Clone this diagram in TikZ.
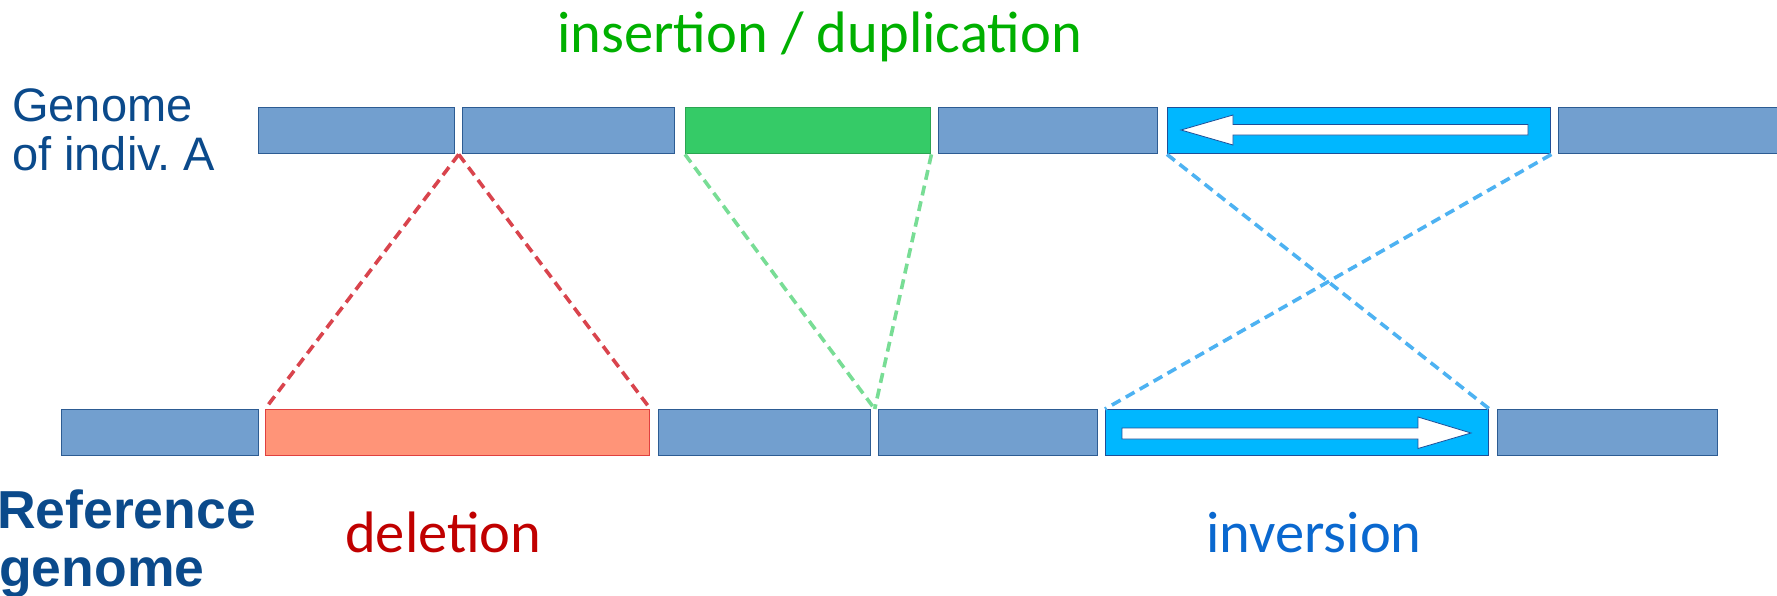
\documentclass[tikz,border=0pt]{standalone}
\usepackage{fontspec}
\setmainfont{Liberation Sans}
\newfontfamily\calfont{Carlito}
\usetikzlibrary{calc}
\frenchspacing

\definecolor{segblue}{HTML}{729FCF}
\definecolor{segedge}{HTML}{2D5C93}
\definecolor{insfill}{HTML}{35CB67}
\definecolor{insedge}{HTML}{2BA552}
\definecolor{invfill}{HTML}{00B7FF}
\definecolor{invedge}{HTML}{1E4F98}
\definecolor{delfill}{HTML}{FF9478}
\definecolor{deledge}{HTML}{E0403F}
\definecolor{dashred}{HTML}{D9444D}
\definecolor{dashgreen}{HTML}{78DD95}
\definecolor{dashblue}{HTML}{4DB2F2}
\definecolor{labelblue}{HTML}{0B4A8B}
\definecolor{delred}{HTML}{C00000}
\definecolor{insgreen}{HTML}{00B000}
\definecolor{invblue}{HTML}{0A68CF}

\tikzset{
  seg/.style={draw=segedge, fill=segblue, line width=1.4pt, inner sep=0pt,
              anchor=north west, minimum height=46pt},
  insseg/.style={seg, draw=insedge, fill=insfill},
  invseg/.style={seg, draw=invedge, fill=invfill},
  delseg/.style={seg, draw=deledge, fill=delfill},
  link/.style={dash pattern=on 10pt off 6pt, line width=3.6pt},
  strandarrow/.style={fill=white, draw=invedge, line width=0.8pt},
  lbl/.style={inner sep=0pt, anchor=base west},
  varfont/.style={font=\calfont\fontsize{58.5}{60}\selectfont},
}

\begin{document}
\begin{tikzpicture}[x=1pt, y=-1pt]
  \useasboundingbox (0,0) rectangle (1777,595);

  % genome of individual A (upper row)
  \node[seg,    minimum width=196pt] (t1) at (258,107) {};
  \node[seg,    minimum width=212pt] (t2) at (462,107) {};
  \node[insseg, minimum width=245pt] (tg) at (685,107) {};
  \node[seg,    minimum width=219pt] (t4) at (938,107) {};
  \node[invseg, minimum width=383pt] (tc) at (1167,107) {};
  \node[seg,    minimum width=230pt] (t6) at (1558,107) {};

  % reference genome (lower row)
  \node[seg,    minimum width=197pt] (b1) at (61,409) {};
  \node[delseg, minimum width=384pt] (br) at (265,409) {};
  \node[seg,    minimum width=212pt] (b3) at (658,409) {};
  \node[seg,    minimum width=219pt] (b4) at (878,409) {};
  \node[invseg, minimum width=383pt] (bc) at (1105,409) {};
  \node[seg,    minimum width=220pt] (b6) at (1497,409) {};

  % strand direction arrows inside the inverted segments
  \filldraw[strandarrow] (1181,130) -- (1233,115) -- (1233,124.5) -- (1528,124.5)
    -- (1528,135) -- (1233,135) -- (1233,145) -- cycle;
  \filldraw[strandarrow] (1122,428) -- (1418,428) -- (1418,417) -- (1471,433)
    -- (1418,448.5) -- (1418,439) -- (1122,439) -- cycle;

  % correspondence lines
  \coordinate (delpt) at ($(t1.south east)!0.5!(t2.south west)$);
  \coordinate (inspt) at ($(b3.north east)!0.5!(b4.north west)$);
  \draw[link, dashred] (delpt) -- (br.north west);
  \draw[link, dashred] (delpt) -- (br.north east);
  \draw[link, dashgreen] (tg.south west) -- (inspt);
  \draw[link, dashgreen] (tg.south east) -- (inspt);
  \draw[link, dashblue] (tc.south west) -- (bc.north east);
  \draw[link, dashblue] (tc.south east) -- (bc.north west);

  % row labels
  \node[lbl, text=labelblue, font=\fontsize{47}{49}\selectfont] (ga1) at (12,121) {Genome};
  \node[lbl, text=labelblue, font=\fontsize{47}{49}\selectfont] (ga2) at (12,170) {of indiv. A};
  \node[lbl, text=labelblue, font=\fontsize{53.5}{58}\selectfont\bfseries] (rg1) at (-3,528) {Reference};
  \node[lbl, text=labelblue, font=\fontsize{53.5}{58}\selectfont\bfseries] (rg2) at (-1,586) {genome};

  % variant labels
  \node[lbl, text=insgreen, varfont] (lins) at (557,52) {insertion / duplication};
  \node[lbl, text=delred, varfont] (ldel) at (345,552) {deletion};
  \node[lbl, text=invblue, varfont] (linv) at (1206,552) {inversion};
\end{tikzpicture}
\end{document}
